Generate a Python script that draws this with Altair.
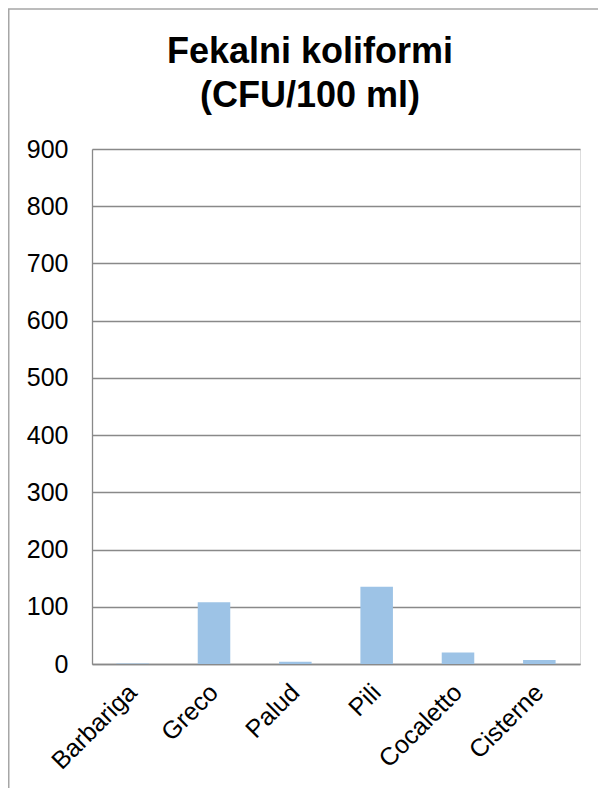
import altair as alt
import pandas as pd

categories = ["Barbariga", "Greco", "Palud", "Pili", "Cocaletto", "Cisterne"]
values = [1, 108, 4, 135, 20, 7]
y_ticks = [0, 100, 200, 300, 400, 500, 600, 700, 800, 900]
title_lines = ["Fekalni koliformi", "(CFU/100 ml)"]

df = pd.DataFrame({"site": categories, "cfu": values})

W, H = 488, 515
FONT = "Liberation Sans"

frame = alt.Chart(alt.Data(values=[{"f": 1}])).mark_rect(
    fill=None, stroke="#A6A6A6", strokeWidth=1.5
).encode(
    x=alt.value(-83.25), x2=alt.value(W + 40),
    y=alt.value(-140), y2=alt.value(H + 160),
)

bars = alt.Chart(df).mark_bar(color="#9DC3E6").encode(
    x=alt.X("site:N", sort=categories,
            scale=alt.Scale(paddingInner=0.6, paddingOuter=0.3),
            axis=alt.Axis(title=None, labelAngle=-45, labelAlign="right",
                          labelBaseline="middle", labelPadding=24,
                          labelFontSize=25, labelFont=FONT, labelColor="#000000",
                          ticks=False, tickSize=0, domain=True,
                          domainColor="#898989", domainWidth=1.3,
                          grid=False)),
    y=alt.Y("cfu:Q", scale=alt.Scale(domain=[0, 900], nice=False),
            axis=alt.Axis(title=None, values=y_ticks, labelFontSize=25,
                          labelFont=FONT, labelColor="#000000",
                          labelPadding=24, ticks=False, tickSize=0,
                          domain=True, domainColor="#898989", domainWidth=1.3,
                          grid=True, gridColor="#898989", gridWidth=1.3)),
)

chart = alt.layer(frame, bars).properties(
    width=W, height=H,
    padding={"left": 84, "top": 141, "right": 18, "bottom": 124},
    autosize=alt.AutoSizeParams(type="none"),
    title=alt.TitleParams(text=title_lines, fontSize=36, font=FONT,
                          fontWeight="bold", color="#000000",
                          anchor="middle", frame="group", lineHeight=44,
                          baseline="bottom", offset=0, dx=-26, dy=143),
).configure_view(stroke=None).configure(background="white")

chart.save("out.html", embed_options={"renderer": "svg", "actions": False})
